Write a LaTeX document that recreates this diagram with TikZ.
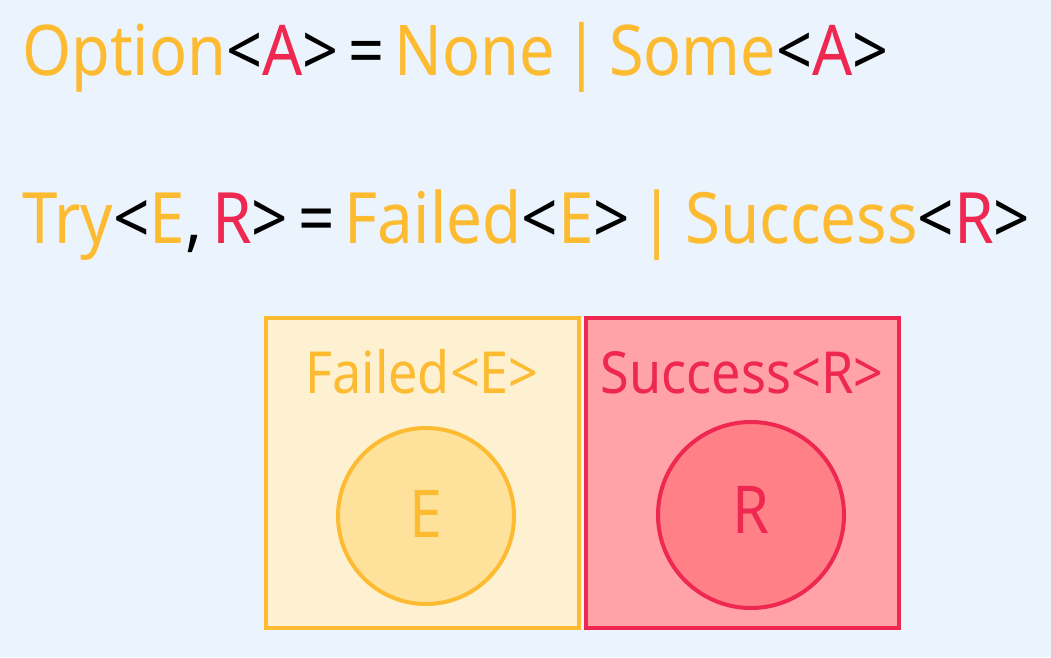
\documentclass[tikz,border=0pt]{standalone}
\usepackage{fontspec}
\setmainfont{Noto Sans}[FakeStretch=0.9,WordSpace=0.6]
\definecolor{bg}{HTML}{EBF3FD}
\definecolor{yel}{HTML}{FDBB31}
\definecolor{rd}{HTML}{EE2850}
\definecolor{yfill}{HTML}{FEF1D2}
\definecolor{ycirc}{HTML}{FEE29C}
\definecolor{rfill}{HTML}{FFA3A8}
\definecolor{rcirc}{HTML}{FF8086}
\newcommand{\Y}[1]{\textcolor{yel}{#1}}
\newcommand{\R}[1]{\textcolor{rd}{#1}}
\begin{document}
\begin{tikzpicture}[x=1pt,y=-1pt,
  line/.style={inner sep=0pt,anchor=base west,font=\fontsize{70}{80}\selectfont},
  lbl/.style={inner sep=0pt,anchor=base,font=\fontsize{58}{64}\selectfont},
  big/.style={inner sep=0pt,anchor=base,font=\fontsize{66}{72}\selectfont},
  box/.style={line width=4pt},
  circ/.style={line width=4pt}]
\fill[bg] (0,0) rectangle (1051,657);
\useasboundingbox (0,0) rectangle (1051,657);
\node[line] (l1) at (22,75) {\Y{Option}<\R{A}> = \Y{None | Some}<\R{A}>};
\node[line] (l2) at (22,243) {\resizebox{1008pt}{!}{\Y{Try}<\Y{E}, \R{R}> = \Y{Failed}<\Y{E}> \Y{|} \Y{Success}<\R{R}>}};
\draw[box,draw=yel,fill=yfill] (266,318) rectangle (579,628);
\node[lbl,text=yel] (flbl) at (422,393) {Failed<E>};
\draw[circ,draw=yel,fill=ycirc] (426,516) circle (88);
\node[big,text=yel] (e) at (426,537) {E};
\draw[box,draw=rd,fill=rfill] (586,318) rectangle (899,628);
\node[lbl,text=rd] (slbl) at (742,393) {Success<R>};
\draw[circ,draw=rd,fill=rcirc] (751,515) circle (93);
\node[big,text=rd] (r) at (751,533) {R};
\end{tikzpicture}
\end{document}
